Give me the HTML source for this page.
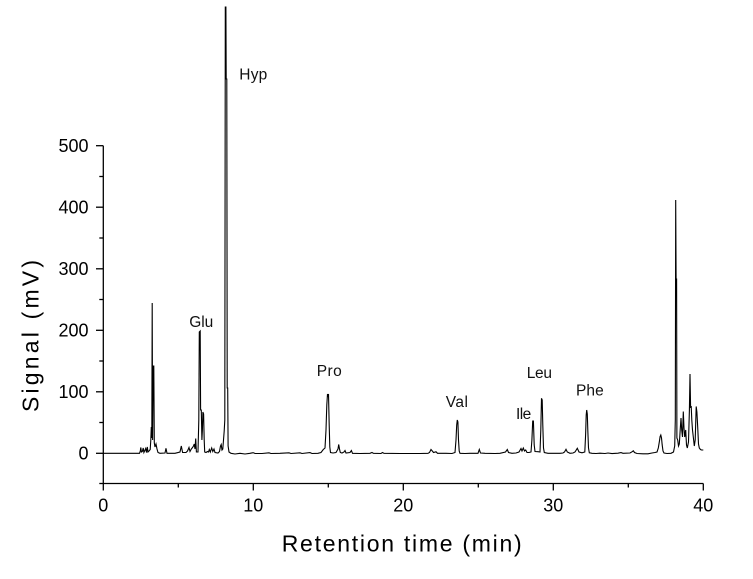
<!DOCTYPE html>
<html>
<head>
<meta charset="utf-8">
<style>
  html,body{margin:0;padding:0;background:#fff;}
  svg{display:block;}
</style>
</head>
<body>
<svg width="753" height="579" viewBox="0 0 753 579" xmlns="http://www.w3.org/2000/svg" font-family="'Liberation Sans', Arial, sans-serif">
  <rect width="753" height="579" fill="#fff"/>

  <!-- Axes -->
  <g stroke="#000" stroke-width="1.3" fill="none">
    <line x1="103.3" y1="145.7" x2="103.3" y2="483.5"/>
    <line x1="103.3" y1="483.5" x2="703.3" y2="483.5"/>
    <!-- Y major ticks -->
    <line x1="96" y1="145.7" x2="103.3" y2="145.7"/>
    <line x1="96" y1="207.2" x2="103.3" y2="207.2"/>
    <line x1="96" y1="268.8" x2="103.3" y2="268.8"/>
    <line x1="96" y1="330.3" x2="103.3" y2="330.3"/>
    <line x1="96" y1="391.8" x2="103.3" y2="391.8"/>
    <line x1="96" y1="453.3" x2="103.3" y2="453.3"/>
    <!-- Y minor ticks -->
    <line x1="99.3" y1="176.5" x2="103.3" y2="176.5"/>
    <line x1="99.3" y1="238" x2="103.3" y2="238"/>
    <line x1="99.3" y1="299.5" x2="103.3" y2="299.5"/>
    <line x1="99.3" y1="361" x2="103.3" y2="361"/>
    <line x1="99.3" y1="422.5" x2="103.3" y2="422.5"/>
    <line x1="99.3" y1="483.5" x2="103.3" y2="483.5"/>
    <!-- X major ticks -->
    <line x1="103.3" y1="483.5" x2="103.3" y2="490.5"/>
    <line x1="253.3" y1="483.5" x2="253.3" y2="490.5"/>
    <line x1="403.3" y1="483.5" x2="403.3" y2="490.5"/>
    <line x1="553.3" y1="483.5" x2="553.3" y2="490.5"/>
    <line x1="703.3" y1="483.5" x2="703.3" y2="490.5"/>
    <!-- X minor ticks -->
    <line x1="178.3" y1="483.5" x2="178.3" y2="487.5"/>
    <line x1="328.3" y1="483.5" x2="328.3" y2="487.5"/>
    <line x1="478.3" y1="483.5" x2="478.3" y2="487.5"/>
    <line x1="628.3" y1="483.5" x2="628.3" y2="487.5"/>
  </g>

  <!-- Y tick labels -->
  <g font-size="18" fill="#000" text-anchor="end">
    <text x="88.5" y="152.1">500</text>
    <text x="88.5" y="213.6">400</text>
    <text x="88.5" y="275.2">300</text>
    <text x="88.5" y="336.7">200</text>
    <text x="88.5" y="398.2">100</text>
    <text x="88.5" y="459.7">0</text>
  </g>

  <!-- X tick labels -->
  <g font-size="18" fill="#000" text-anchor="middle">
    <text x="103.3" y="511.7">0</text>
    <text x="253.3" y="511.7">10</text>
    <text x="403.3" y="511.7">20</text>
    <text x="553.3" y="511.7">30</text>
    <text x="703.3" y="511.7">40</text>
  </g>

  <!-- Axis titles -->
  <text x="281.7" y="551.7" font-size="23" fill="#000" textLength="240" lengthAdjust="spacing">Retention time (min)</text>
  <text transform="translate(38.5,412) rotate(-90)" x="0" y="0" font-size="23" fill="#000" textLength="152" lengthAdjust="spacing">Signal (mV)</text>

  <!-- Chromatogram -->
  <polyline fill="none" stroke="#000" stroke-width="1.1" stroke-linejoin="miter" points="
103.3,453.3 139.5,453.3
140.3,451 140.8,447.5 141.4,452 142.3,451.5 143.2,448 143.9,452.5 144.8,450.5 145.7,448.5 146.5,452.5 147.3,447 148,452 149,451 150.2,449.5 150.8,440 151.3,427 151.8,438 152.2,303 152.6,440 153.2,366 153.8,366 154.3,443 155,447 156,444 157,449 158,452.5 160,453.3 165,453 166,448.3 167,453.3 175,453.3 180,452 181.3,446 182.6,452.5 186,452.5 187.5,451 189,447.5 190,451.5 191.3,449 192.5,447.5 193.5,446 194.2,444 195,449 195.7,438.5 196.4,452 198,452 198.8,420 199.3,332 200.2,331 200.6,410 201.3,410 201.9,440 202.4,430 202.9,412 203.6,414 204.2,440 204.7,452 206,452.5 207.5,451.5 208.5,452 209.3,449.5 210.3,452 211.7,448 212.8,451.5 214,449 215,452.5 218,453 219.5,451.5 220.5,446 221.2,444.5 222,450 222.8,449 223.5,440 224.2,431 224.8,420 225.3,7 225.9,7 226.2,79 226.8,79 227.2,388 227.7,388 228.1,446 229,452 231,453.3 235,454 240,453.3 245,454 250,453.3 252.5,452.8 253.5,452.8 255,453.5 262,453.5 269,452.8 271,453.5 280,453.3 289,452.8 291,453.5 300,452.8 302,453.5 310,452.6 312,453.5 318,453.3 321,452.5 323.3,449.5 325,448 326,430 326.8,405 327.5,394 328,397 328.5,394 329.2,425 329.8,447 330.5,452.5 333,453 336,452.5 338,449 338.7,444.5 339.5,449 340.3,452.5 342,453 344,452 345,450.5 346,453 350,452.5 351.4,450.5 352.5,453.3 360,453.5 370,453.3 372,452.5 373.5,453.3 381,453.5 382.5,452.5 384,453.3 400,453.5 420,453.5 428,453.3 429.5,452.5 431,449.5 432.3,451 433.5,452.5 436,451.8 437.5,453.3 446,453.3 452,453.5 455,452.5 456,440 456.7,425 457.3,420 457.9,422 458.5,440 459.2,451 460,453.3 465,453.5 470,453.3 478,453.3 479.3,449.5 480.5,453 485,453.3 495,453.5 500,453.3 505.5,452 507.3,449.5 508.5,452.5 512,453.3 516,453 519,452 521,448.5 522,451 523.3,448 524.5,451 525.7,450 527,452.5 529,452.5 531,452 531.9,440 532.7,421 533.4,421 534.2,445 535,451.5 538,451.7 540,452 540.8,430 541.5,398.3 542.2,400 542.8,425 543.5,448 544.3,452.5 548,453.3 555,453.3 560,453.3 563,453 564.5,452 566,449.3 567.3,452 570,453.3 573,453 575,452 577.3,448.3 579,452 582,452.8 584.8,452 585.6,435 586.2,415 586.7,410 587.3,414 587.8,430 588.5,448 589.3,452.8 592,453.3 596,453.5 600,453.2 605,453.5 608,453 612,453.6 618,453.2 621,452.6 623,453.3 630,453 632,451.8 633.3,450.8 634.5,452.5 637,453.5 643,453.8 648,453.8 652,453 655,452.5 657,452 658.3,448 659.3,442 660.1,436.5 660.8,435 661.5,438 662.2,445 663,451 664,453 667,453.5 671,453.3 673.5,452 674.7,446 675.3,420 675.7,200 676.1,279 676.6,279 676.9,438 677.7,440 678.5,446 679.3,444 680.2,430 681,418 681.7,430 682.5,437 683.3,411.5 684,428 684.7,437 685.7,430 686.5,445 687.3,448 688.5,442 689.4,410 690,374 690.6,408 691.2,406 691.8,420 692.5,430 693.3,437 694.3,446 695.2,440 696.2,406.5 696.9,412 697.7,427 698.5,444 699.3,448 700.5,449.5 701.5,450 703.3,450
"/>

  <!-- Peak labels -->
  <g font-size="15.5" fill="#111">
    <text x="239.3" y="79.5" textLength="28" lengthAdjust="spacing">Hyp</text>
    <text x="189.3" y="327.2" textLength="24" lengthAdjust="spacing">Glu</text>
    <text x="316.7" y="376.2" textLength="25" lengthAdjust="spacing">Pro</text>
    <text x="445.7" y="407.2" textLength="22.3" lengthAdjust="spacing">Val</text>
    <text x="516" y="418.8" textLength="15.3" lengthAdjust="spacing">Ile</text>
    <text x="526.7" y="378.2" textLength="25.3" lengthAdjust="spacing">Leu</text>
    <text x="576" y="395.5" textLength="27.7" lengthAdjust="spacing">Phe</text>
  </g>
</svg>
</body>
</html>
